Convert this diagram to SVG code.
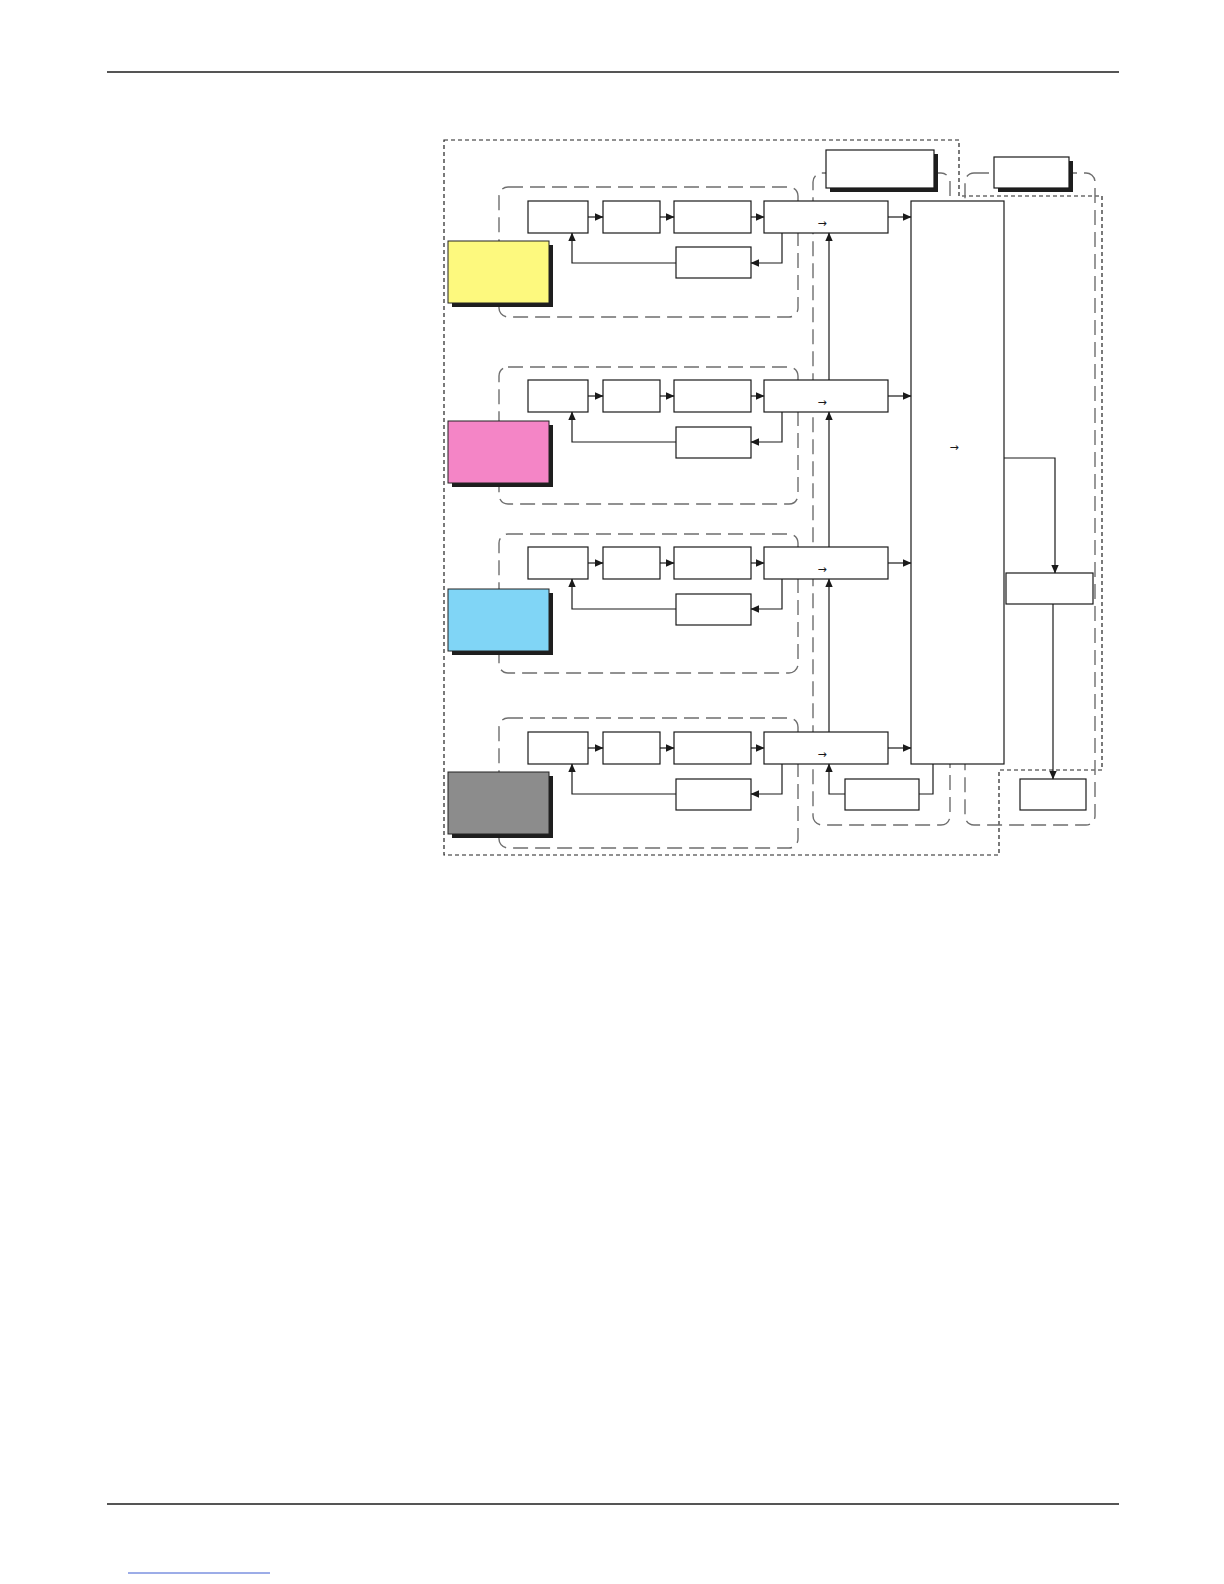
<svg xmlns="http://www.w3.org/2000/svg" width="1224" height="1584" viewBox="0 0 1224 1584">
<defs>
<marker id="ah" markerUnits="userSpaceOnUse" markerWidth="9" markerHeight="8" refX="8" refY="4" orient="auto">
<path d="M0,0.3 L8.5,4 L0,7.7 z" fill="#1a1a1a"/>
</marker>
</defs>
<style>
.rule{stroke:#555;stroke-width:2;fill:none}
.outer{fill:none;stroke:#222;stroke-width:1.2;stroke-dasharray:4 3}
.grp{fill:none;stroke:#6e6e6e;stroke-width:1.4;stroke-dasharray:15 7}
.box{fill:#fff;stroke:#1a1a1a;stroke-width:1.2}
.shadow{fill:#1e1e1e}
.con{fill:none;stroke:#1a1a1a;stroke-width:1.2}
.arr{marker-end:url(#ah)}
.sym{font-family:"DejaVu Sans",sans-serif;font-size:11px;fill:#1a1a1a;text-anchor:middle}
</style>
<rect width="1224" height="1584" fill="#fff"/>
<line class="rule" x1="107" y1="72" x2="1119" y2="72"/>
<line class="rule" x1="107" y1="1504" x2="1119" y2="1504"/>
<line x1="128" y1="1573" x2="270" y2="1573" stroke="#3a5bd0" stroke-width="1"/>

<g id="regions">
<path class="outer" d="M444,140 H959 V196 H1102 V770 H999 V855 H444 Z"/>
<rect class="grp" x="499" y="187" width="299" height="130" rx="9"/>
<rect class="grp" x="499" y="367" width="299" height="137" rx="9"/>
<rect class="grp" x="499" y="534" width="299" height="139" rx="9"/>
<rect class="grp" x="499" y="718" width="299" height="130" rx="9"/>
<rect class="grp" x="813" y="173" width="137" height="652" rx="9"/>
<rect class="grp" x="965" y="173" width="130" height="652" rx="9"/>
</g>

<g id="color-yellow"><rect class="shadow" x="452" y="245" width="101" height="62"/><rect x="448" y="241" width="101" height="62" fill="#FDF97E" stroke="#222" stroke-width="1"/></g>
<g id="color-magenta"><rect class="shadow" x="452" y="425" width="101" height="62"/><rect x="448" y="421" width="101" height="62" fill="#F485C6" stroke="#222" stroke-width="1"/></g>
<g id="color-cyan"><rect class="shadow" x="452" y="593" width="101" height="62"/><rect x="448" y="589" width="101" height="62" fill="#80D5F6" stroke="#222" stroke-width="1"/></g>
<g id="color-black"><rect class="shadow" x="452" y="776" width="101" height="62"/><rect x="448" y="772" width="101" height="62" fill="#8C8C8C" stroke="#222" stroke-width="1"/></g>

<g id="row1">
<rect class="box" x="528" y="201" width="60" height="32"/>
<rect class="box" x="603" y="201" width="57" height="32"/>
<rect class="box" x="674" y="201" width="77" height="32"/>
<rect class="box" x="764" y="201" width="124" height="32"/>
<text class="sym" x="822" y="227">→</text>
<rect class="box" x="676" y="247" width="75" height="31"/>
</g>
<g id="row2">
<rect class="box" x="528" y="380" width="60" height="32"/>
<rect class="box" x="603" y="380" width="57" height="32"/>
<rect class="box" x="674" y="380" width="77" height="32"/>
<rect class="box" x="764" y="380" width="124" height="32"/>
<text class="sym" x="822" y="406">→</text>
<rect class="box" x="676" y="427" width="75" height="31"/>
</g>
<g id="row3">
<rect class="box" x="528" y="547" width="60" height="32"/>
<rect class="box" x="603" y="547" width="57" height="32"/>
<rect class="box" x="674" y="547" width="77" height="32"/>
<rect class="box" x="764" y="547" width="124" height="32"/>
<text class="sym" x="822" y="573">→</text>
<rect class="box" x="676" y="594" width="75" height="31"/>
</g>
<g id="row4">
<rect class="box" x="528" y="732" width="60" height="32"/>
<rect class="box" x="603" y="732" width="57" height="32"/>
<rect class="box" x="674" y="732" width="77" height="32"/>
<rect class="box" x="764" y="732" width="124" height="32"/>
<text class="sym" x="822" y="758">→</text>
<rect class="box" x="676" y="779" width="75" height="31"/>
</g>

<g id="top-middle"><rect class="shadow" x="830" y="154" width="108" height="38"/><rect class="box" x="826" y="150" width="108" height="38"/></g>
<g id="top-right"><rect class="shadow" x="998" y="161" width="75" height="31"/><rect class="box" x="994" y="157" width="75" height="31"/></g>
<g id="main"><rect class="box" x="911" y="201" width="93" height="563"/><text class="sym" x="954" y="451">→</text></g>
<g id="bottom-middle"><rect class="box" x="845" y="779" width="74" height="31"/></g>
<g id="right-middle"><rect class="box" x="1006" y="573" width="87" height="31"/></g>
<g id="bottom-right"><rect class="box" x="1020" y="779" width="66" height="31"/></g>

<g id="connectors">
<path class="con arr" d="M588,217 H603"/>
<path class="con arr" d="M660,217 H674"/>
<path class="con arr" d="M751,217 H764"/>
<path class="con arr" d="M888,217 H911"/>
<path class="con arr" d="M782,233 V263 H751"/>
<path class="con arr" d="M676,263 H572 V233"/>

<path class="con arr" d="M588,396 H603"/>
<path class="con arr" d="M660,396 H674"/>
<path class="con arr" d="M751,396 H764"/>
<path class="con arr" d="M888,396 H911"/>
<path class="con arr" d="M782,412 V442 H751"/>
<path class="con arr" d="M676,442 H572 V412"/>

<path class="con arr" d="M588,563 H603"/>
<path class="con arr" d="M660,563 H674"/>
<path class="con arr" d="M751,563 H764"/>
<path class="con arr" d="M888,563 H911"/>
<path class="con arr" d="M782,579 V609 H751"/>
<path class="con arr" d="M676,609 H572 V579"/>

<path class="con arr" d="M588,748 H603"/>
<path class="con arr" d="M660,748 H674"/>
<path class="con arr" d="M751,748 H764"/>
<path class="con arr" d="M888,748 H911"/>
<path class="con arr" d="M782,764 V794 H751"/>
<path class="con arr" d="M676,794 H572 V764"/>

<path class="con arr" d="M829,732 V579"/>
<path class="con arr" d="M829,547 V412"/>
<path class="con arr" d="M829,380 V233"/>
<path class="con" d="M933,764 V794 H919"/>
<path class="con arr" d="M845,794 H829 V764"/>
<path class="con arr" d="M1004,458 H1055 V573"/>
<path class="con arr" d="M1053,604 V779"/>
</g>
</svg>
